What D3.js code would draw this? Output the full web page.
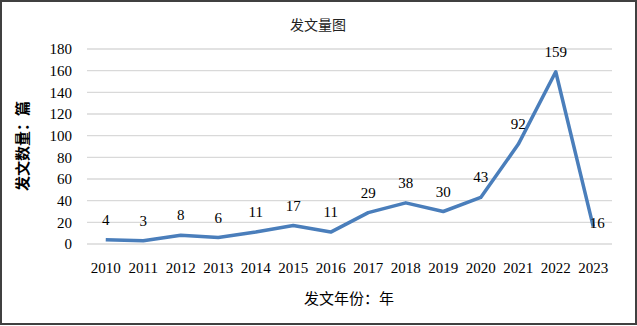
<!DOCTYPE html>
<html lang="zh">
<head>
  <meta charset="UTF-8">
  <title>发文量图</title>
  <style>
    body { margin: 0; background: #fff; }
  </style>
</head>
<body>
  <svg></svg>
  <script src="https://cdn.jsdelivr.net/npm/d3@7"></script>
  <script>
    var years = ["2010", "2011", "2012", "2013", "2014", "2015", "2016", "2017", "2018", "2019", "2020", "2021", "2022", "2023"];
    var counts = [4, 3, 8, 6, 11, 17, 11, 29, 38, 30, 43, 92, 159, 16];
    var yTicks = [0, 20, 40, 60, 80, 100, 120, 140, 160, 180];

    var serif = "Liberation Serif";
    var cjk = "Noto Sans CJK SC";

    var width = 637, height = 326;
    var svg = d3.select("svg").attr("width", width).attr("height", height);

    // 外边框
    svg.append("rect")
      .attr("x", 1).attr("y", 1)
      .attr("width", width - 2).attr("height", height - 3)
      .attr("fill", "#fff")
      .attr("stroke", "#404040")
      .attr("stroke-width", 2);

    var x = d3.scaleBand().domain(years).range([87, 612]);
    var y = d3.scaleLinear().domain([0, 180]).range([244, 49]);

    // 网格线
    svg.append("g")
      .selectAll("line")
      .data(yTicks)
      .join("line")
      .attr("x1", 87).attr("x2", 612)
      .attr("y1", d => y(d)).attr("y2", d => y(d))
      .attr("stroke", "#d9d9d9")
      .attr("stroke-width", 1.3);

    // y轴
    var yAxis = svg.append("g")
      .attr("transform", "translate(87,0)")
      .call(d3.axisLeft(y).tickValues(yTicks).tickSize(0).tickPadding(15))
      .attr("font-family", serif)
      .attr("font-size", 15);
    yAxis.select(".domain").remove();
    yAxis.selectAll(".tick text").attr("fill", "#000");

    // x轴
    var xAxis = svg.append("g")
      .attr("transform", "translate(0,244)")
      .call(d3.axisBottom(x).tickSize(0).tickPadding(18))
      .attr("font-family", serif)
      .attr("font-size", 15);
    xAxis.select(".domain").remove();
    xAxis.selectAll(".tick text").attr("fill", "#000");

    // 折线
    var line = d3.line()
      .x((d, i) => x(years[i]) + x.bandwidth() / 2)
      .y(d => y(d));
    svg.append("path")
      .datum(counts)
      .attr("fill", "none")
      .attr("stroke", "#4a7ebb")
      .attr("stroke-width", 3.5)
      .attr("stroke-linejoin", "round")
      .attr("d", line);

    // 数据标签
    var last = counts.length - 1;
    svg.append("g")
      .attr("font-family", serif)
      .attr("font-size", 15)
      .selectAll("text")
      .data(counts)
      .join("text")
      .attr("x", (d, i) => x(years[i]) + x.bandwidth() / 2 + (i === last ? 4 : 0))
      .attr("y", (d, i) => y(d) + (i === last ? 1 : -15))
      .attr("text-anchor", "middle")
      .text(d => d);

    // 标题
    svg.append("text")
      .attr("x", 318).attr("y", 30)
      .attr("text-anchor", "middle")
      .attr("font-family", cjk)
      .attr("font-size", 14)
      .attr("fill", "#222")
      .text("发文量图");

    svg.append("text")
      .attr("x", 349).attr("y", 304)
      .attr("text-anchor", "middle")
      .attr("font-family", cjk)
      .attr("font-size", 15)
      .text("发文年份：年");

    svg.append("text")
      .attr("transform", "translate(28,146) rotate(-90)")
      .attr("text-anchor", "middle")
      .attr("font-family", cjk)
      .attr("font-size", 15)
      .attr("font-weight", "bold")
      .text("发文数量：篇");
  </script>
</body>
</html>
